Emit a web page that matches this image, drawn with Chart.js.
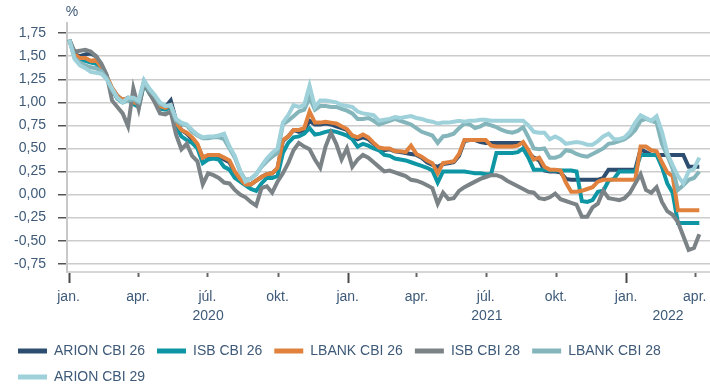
<!DOCTYPE html>
<html lang="is">
<head>
<meta charset="utf-8">
<title>Verðtryggð sértryggð skuldabréf - ávöxtunarkrafa</title>
<script src="https://cdn.jsdelivr.net/npm/chart.js@4.4.1/dist/chart.umd.min.js"></script>
<style>
  html, body { margin: 0; padding: 0; background: #fff; overflow: hidden; }
  #wrap { position: relative; width: 710px; height: 394px; }
</style>
</head>
<body>
<div id="wrap"><canvas id="chart"></canvas></div>
<script>
// Vikuleg gögn frá 2. jan. 2020 (dagur 1) til byrjun apríl 2022
const FIRST_DAY = 1;
const STEP_DAYS = 7;

const arion26 = [1.68,1.52,1.50,1.52,1.53,1.50,1.40,1.28,1.15,1.07,1.02,1.05,1.02,0.98,1.22,1.12,1.05,0.97,0.95,1.02,
  0.80,0.70,0.66,0.60,0.53,0.40,0.42,0.42,0.42,0.38,0.35,0.24,0.16,0.11,0.11,0.15,0.19,0.22,0.23,0.28,
  0.58,0.63,0.70,0.68,0.70,0.80,0.76,0.76,0.77,0.76,0.74,0.72,0.70,0.62,0.60,0.62,0.60,0.55,0.50,0.48,
  0.49,0.47,0.46,0.45,0.44,0.43,0.40,0.35,0.32,0.30,0.33,0.34,0.35,0.42,0.58,0.59,0.59,0.57,0.56,0.56,
  0.56,0.56,0.56,0.56,0.56,0.56,0.45,0.40,0.37,0.26,0.25,0.25,0.24,0.17,0.16,0.16,0.16,0.16,0.16,0.16,
  0.18,0.27,0.27,0.27,0.27,0.27,0.27,0.49,0.46,0.43,0.43,0.43,0.43,0.43,0.43,0.43,0.30,0.30,0.30];

const isb26 = [1.68,1.50,1.47,1.45,1.43,1.42,1.36,1.27,1.14,1.04,1.00,1.03,0.98,0.95,1.20,1.10,1.02,0.93,0.92,0.95,
  0.74,0.63,0.59,0.56,0.50,0.34,0.38,0.39,0.38,0.30,0.27,0.18,0.14,0.10,0.06,0.04,0.12,0.18,0.18,0.20,
  0.45,0.56,0.62,0.63,0.66,0.72,0.65,0.66,0.68,0.69,0.68,0.66,0.64,0.60,0.52,0.55,0.53,0.50,0.48,0.43,
  0.42,0.39,0.38,0.37,0.35,0.33,0.31,0.29,0.26,0.13,0.25,0.25,0.25,0.25,0.25,0.24,0.23,0.23,0.22,0.22,
  0.45,0.45,0.45,0.45,0.46,0.50,0.40,0.27,0.27,0.27,0.26,0.26,0.26,0.26,0.26,0.25,-0.07,-0.08,-0.06,0.03,
  0.04,0.15,0.17,0.25,0.25,0.25,0.25,0.43,0.43,0.43,0.43,0.30,0.12,0.02,-0.31,-0.31,-0.31,-0.31,-0.31];

const lbank26 = [1.68,1.52,1.48,1.48,1.45,1.46,1.38,1.28,1.16,1.07,1.03,1.04,1.00,0.98,1.22,1.12,1.05,0.96,0.94,0.97,
  0.78,0.70,0.67,0.62,0.55,0.40,0.43,0.43,0.43,0.40,0.37,0.25,0.17,0.11,0.11,0.15,0.19,0.22,0.23,0.29,
  0.59,0.63,0.70,0.70,0.72,0.90,0.78,0.78,0.79,0.78,0.77,0.74,0.71,0.64,0.62,0.65,0.62,0.56,0.51,0.50,
  0.50,0.47,0.47,0.46,0.53,0.44,0.41,0.37,0.34,0.23,0.34,0.35,0.36,0.44,0.59,0.59,0.59,0.59,0.59,0.53,
  0.52,0.52,0.52,0.52,0.53,0.57,0.48,0.38,0.40,0.30,0.27,0.27,0.26,0.13,0.03,0.03,0.04,0.06,0.08,0.14,
  0.16,0.16,0.16,0.16,0.16,0.16,0.16,0.52,0.52,0.48,0.47,0.35,0.24,0.20,-0.17,-0.17,-0.17,-0.17,-0.17];

const isb28 = [1.68,1.55,1.56,1.57,1.55,1.50,1.42,1.30,1.02,0.95,0.88,0.74,1.15,0.93,1.22,1.10,1.00,0.88,0.87,0.90,
  0.65,0.49,0.55,0.42,0.36,0.11,0.23,0.21,0.18,0.13,0.12,0.05,0.00,-0.03,-0.08,-0.12,0.07,0.09,0.02,0.14,
  0.23,0.34,0.48,0.56,0.52,0.49,0.38,0.29,0.52,0.67,0.55,0.38,0.50,0.30,0.38,0.43,0.40,0.35,0.30,0.25,
  0.26,0.24,0.22,0.20,0.16,0.15,0.13,0.10,0.07,-0.10,0.02,-0.05,-0.04,0.04,0.08,0.11,0.14,0.17,0.19,0.21,
  0.21,0.19,0.15,0.12,0.09,0.06,0.03,0.02,-0.04,-0.05,-0.03,0.01,-0.05,-0.07,-0.09,-0.11,-0.24,-0.24,-0.14,-0.10,
  0.04,-0.04,-0.05,-0.06,-0.04,0.02,0.12,0.22,0.05,0.02,0.08,-0.08,-0.18,-0.22,-0.30,-0.45,-0.60,-0.58,-0.43];

const lbank28 = [1.68,1.48,1.43,1.40,1.38,1.37,1.34,1.26,1.13,1.05,1.00,1.02,1.03,1.00,1.22,1.13,1.07,0.98,0.96,0.96,
  0.80,0.76,0.75,0.68,0.64,0.61,0.61,0.62,0.62,0.60,0.50,0.40,0.25,0.16,0.17,0.22,0.30,0.36,0.41,0.45,
  0.76,0.80,0.85,0.90,0.92,1.05,0.92,0.96,0.96,0.95,0.95,0.93,0.91,0.88,0.82,0.82,0.83,0.80,0.76,0.78,
  0.80,0.82,0.80,0.78,0.76,0.72,0.68,0.66,0.64,0.56,0.63,0.64,0.66,0.72,0.77,0.76,0.72,0.74,0.77,0.75,
  0.73,0.70,0.68,0.67,0.69,0.73,0.62,0.50,0.49,0.50,0.40,0.40,0.42,0.48,0.47,0.44,0.42,0.41,0.44,0.47,
  0.50,0.55,0.56,0.58,0.60,0.64,0.70,0.80,0.82,0.80,0.78,0.55,0.42,0.28,0.05,0.10,0.16,0.18,0.25];

const arion29 = [1.68,1.47,1.40,1.37,1.33,1.32,1.31,1.25,1.15,1.05,1.00,1.05,1.05,1.02,1.24,1.15,1.08,1.00,0.96,0.97,
  0.82,0.78,0.76,0.70,0.65,0.62,0.63,0.63,0.64,0.66,0.52,0.42,0.26,0.14,0.17,0.22,0.31,0.39,0.45,0.50,
  0.78,0.86,0.97,0.95,0.97,1.18,0.95,1.02,1.02,1.01,1.00,0.97,0.96,0.95,0.90,0.88,0.87,0.86,0.80,0.81,
  0.82,0.84,0.83,0.84,0.85,0.83,0.82,0.80,0.79,0.77,0.78,0.78,0.79,0.80,0.79,0.80,0.80,0.81,0.81,0.80,
  0.80,0.80,0.80,0.80,0.80,0.80,0.75,0.68,0.67,0.67,0.60,0.63,0.60,0.55,0.56,0.57,0.56,0.54,0.54,0.58,
  0.63,0.66,0.60,0.60,0.62,0.68,0.78,0.86,0.83,0.80,0.85,0.68,0.45,0.32,0.20,0.12,0.25,0.28,0.40];

const seriesNames = ['ARION CBI 26', 'ISB CBI 26', 'LBANK CBI 26', 'ISB CBI 28', 'LBANK CBI 28', 'ARION CBI 29'];
const seriesColors = ['#2d4e70', '#0e96a4', '#e0823d', '#7b8387', '#84b5bb', '#9fd1da'];
const seriesValues = [arion26, isb26, lbank26, isb28, lbank28, arion29];

// Ásar: dagar frá 1. jan. 2020
const xTickDays = [0, 91, 182, 274, 366, 456, 547, 639, 731, 821];
const xTickLabels = ['jan.', 'apr.', 'júl.', 'okt.', 'jan.', 'apr.', 'júl.', 'okt.', 'jan.', 'apr.'];
const yearLabels = ['2020', '2021', '2022'];
const yearStartDays = [0, 366, 731, 1096];
const yTicks = [-0.75, -0.5, -0.25, 0, 0.25, 0.5, 0.75, 1, 1.25, 1.5, 1.75];

const TEXT_COLOR = '#3e5a78';
const FONT = '"Liberation Sans", Arial, sans-serif';

const fmt = v => v.toFixed(2).replace('.', ',');

// %-merki, merki á x-ás og ártöl
const axisDecor = {
  id: 'axisDecor',
  afterDraw(chart) {
    const { ctx, chartArea } = chart;
    const xs = chart.scales.x;
    ctx.save();
    ctx.font = '14px ' + FONT;
    ctx.fillStyle = TEXT_COLOR;
    ctx.textAlign = 'center';
    ctx.textBaseline = 'middle';
    ctx.fillText('%', 72, 12);

    xTickDays.forEach((d, i) => {
      const x = Math.round(xs.getPixelForValue(d)) + 0.5;
      const major = xTickLabels[i] === 'jan.';
      ctx.beginPath();
      ctx.strokeStyle = major ? '#4a4a4a' : '#666';
      ctx.lineWidth = 2;
      ctx.moveTo(x, chartArea.bottom + 1);
      ctx.lineTo(x, chartArea.bottom + (major ? 11 : 5));
      ctx.stroke();
    });

    yearLabels.forEach((y, i) => {
      const a = Math.max(xs.min, yearStartDays[i]);
      const b = Math.min(xs.max, yearStartDays[i + 1]);
      const cx = (xs.getPixelForValue(a) + xs.getPixelForValue(b)) / 2;
      ctx.fillText(y, cx, 316);
    });
    ctx.restore();
  }
};

const datasets = seriesNames.map((name, i) => ({
  label: name,
  data: seriesValues[i].map((v, k) => ({ x: FIRST_DAY + STEP_DAYS * k, y: v })),
  borderColor: seriesColors[i],
  backgroundColor: seriesColors[i],
  borderWidth: 4,
  pointRadius: 0,
  tension: 0,
  fill: false,
  order: seriesNames.length - i
}));

new Chart(document.getElementById('chart'), {
  type: 'line',
  data: { datasets },
  plugins: [axisDecor],
  options: {
    responsive: true,
    maintainAspectRatio: false,
    animation: false,
    layout: { padding: { left: 6, right: 0, top: 23, bottom: 0 } },
    plugins: {
      tooltip: { enabled: false },
      legend: {
        position: 'bottom',
        align: 'start',
        labels: {
          boxWidth: 29,
          boxHeight: 5,
          padding: 12,
          color: TEXT_COLOR,
          font: { size: 14, family: FONT },
          sort: (a, b) => a.datasetIndex - b.datasetIndex,
          generateLabels: chart => Chart.defaults.plugins.legend.labels.generateLabels(chart)
            .map(l => ({ ...l, lineWidth: 0 }))
        }
      }
    },
    scales: {
      x: {
        type: 'linear',
        min: -2,
        max: 841,
        afterBuildTicks: scale => { scale.ticks = xTickDays.map(v => ({ value: v })); },
        afterFit: scale => { scale.height = 60; scale.paddingLeft = 0; scale.paddingRight = 0; },
        grid: { display: false, drawTicks: false },
        border: { display: true, color: '#d6d6d6', width: 2 },
        ticks: {
          autoSkip: false,
          maxRotation: 0,
          padding: 17,
          color: TEXT_COLOR,
          font: { size: 14, family: FONT },
          callback: (v, i) => xTickLabels[i]
        }
      },
      y: {
        min: -0.84,
        max: 1.86,
        afterBuildTicks: scale => { scale.ticks = yTicks.map(v => ({ value: v })); },
        afterFit: scale => { scale.width = 61; },
        grid: { color: '#cccccc', lineWidth: 1.5, drawTicks: true, tickLength: 9, tickColor: '#555', tickWidth: 1.5 },
        border: { display: true, color: '#c8c8c8', width: 2 },
        ticks: {
          padding: 12,
          color: TEXT_COLOR,
          font: { size: 14, family: FONT },
          callback: v => fmt(v)
        }
      }
    }
  }
});
</script>
</body>
</html>
